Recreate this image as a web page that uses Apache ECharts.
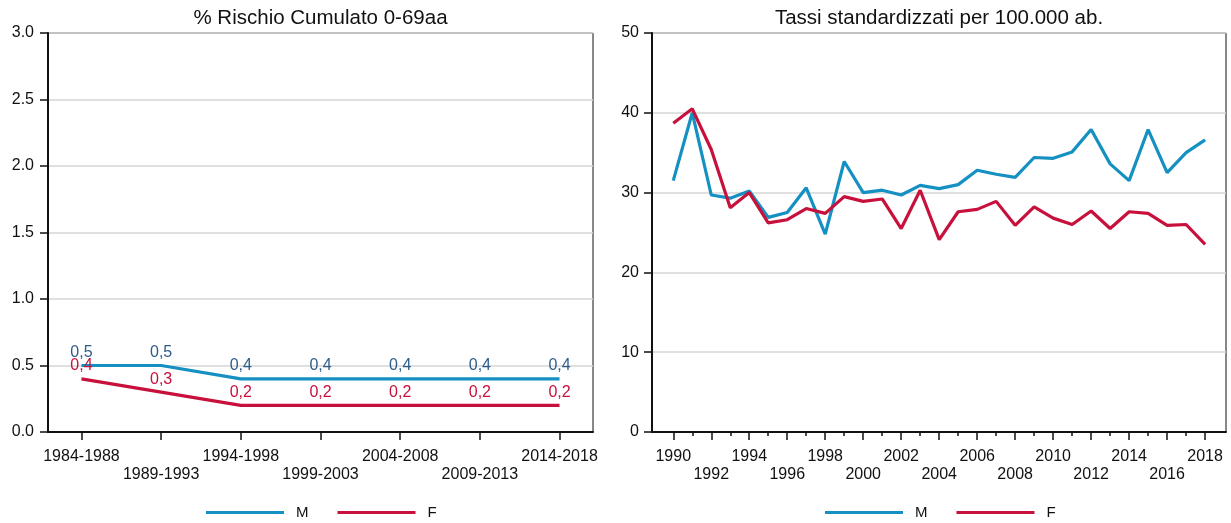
<!DOCTYPE html>
<html>
<head>
<meta charset="utf-8">
<script src="https://cdn.jsdelivr.net/npm/echarts@6/dist/echarts.min.js"></script>
<style>
html,body{margin:0;padding:0;background:#fff;}
#chart{width:1231px;height:523px;}
</style>
</head>
<body>
<div id="chart"></div>
<script>
// ---- Data ----
const periods = ['1984-1988','1989-1993','1994-1998','1999-2003','2004-2008','2009-2013','2014-2018'];
const riskM = [0.5,0.5,0.4,0.4,0.4,0.4,0.4];
const riskF = [0.4,0.3,0.2,0.2,0.2,0.2,0.2];

const years = [1990,1991,1992,1993,1994,1995,1996,1997,1998,1999,2000,2001,2002,2003,2004,2005,2006,2007,2008,2009,2010,2011,2012,2013,2014,2015,2016,2017,2018];
const rateM = [31.5,40.0,29.7,29.3,30.2,26.9,27.5,30.6,24.8,33.9,30.0,30.3,29.7,30.9,30.5,31.0,32.8,32.3,31.9,34.4,34.3,35.1,37.9,33.6,31.5,37.9,32.5,35.0,36.6];
const rateF = [38.7,40.5,35.4,28.1,30.0,26.2,26.6,28.0,27.4,29.5,28.9,29.2,25.5,30.3,24.1,27.6,27.9,28.9,25.9,28.2,26.8,26.0,27.7,25.5,27.6,27.4,25.9,26.0,23.5];

const leftTicks = [0.0,0.5,1.0,1.5,2.0,2.5,3.0];
const rightTicks = [0,10,20,30,40,50];

// ---- Styles ----
const FONT = 'Liberation Sans, Arial, sans-serif';
const BLUE = '#1590C2';
const RED = '#C8103C';
const LBL_M = '#2E5C8A';
const LBL_F = '#C8103C';

const periodIdx = periods.map((_, i) => i);
const evenYears = years.filter(y => y % 2 === 0);
const oddYears = years.filter(y => y % 2 === 1);

const axisTxt = {color:'#111', fontFamily: FONT, fontSize: 16};

const chart = echarts.init(document.getElementById('chart'), null, {renderer:'canvas'});

const riskLabel = (col) => ({show: true, position: 'top', distance: 5, color: col, fontFamily: FONT, fontSize: 16,
  formatter: p => p.value[1].toFixed(1).replace('.', ',')});

const option = {
  animation: false,
  backgroundColor: '#fff',
  textStyle: {fontFamily: FONT},
  title: [
    {text: '% Rischio Cumulato 0-69aa', left: 320.5, top: 8, padding: 0, textAlign: 'center',
     textStyle: {fontFamily: FONT, fontSize: 20.5, fontWeight: 'normal', color: '#111'}},
    {text: 'Tassi standardizzati per 100.000 ab.', left: 939, top: 8, padding: 0, textAlign: 'center',
     textStyle: {fontFamily: FONT, fontSize: 20.5, fontWeight: 'normal', color: '#111'}}
  ],
  legend: [
    {data: ['M','F'], left: 206, top: 505, padding: 0, icon: 'rect', itemWidth: 78, itemHeight: 3, itemGap: 29,
     textStyle: {fontFamily: FONT, fontSize: 15, color: '#111', padding: [0,0,0,7]}, selectedMode: false},
    {data: ['M','F'], left: 825, top: 505, padding: 0, icon: 'rect', itemWidth: 78, itemHeight: 3, itemGap: 29,
     textStyle: {fontFamily: FONT, fontSize: 15, color: '#111', padding: [0,0,0,7]}, selectedMode: false}
  ],
  grid: [
    {left: 48, right: 638, top: 33, bottom: 91, show: true, borderColor: '#111', borderWidth: 1, containLabel: false},
    {left: 652, right: 5, top: 33, bottom: 91, show: true, borderColor: '#111', borderWidth: 1, containLabel: false}
  ],
  xAxis: [
    {gridIndex: 0, type: 'value', min: -0.42, max: 6.42,
     axisLine: {show: true, onZero: false, lineStyle: {color: '#111', width: 2}},
     axisTick: {show: true, length: 8, customValues: periodIdx, lineStyle: {color: '#111', width: 1.5}},
     axisLabel: Object.assign({}, axisTxt, {customValues: periodIdx, margin: 16, lineHeight: 18,
       formatter: v => { const i = Math.round(v); return i % 2 ? '\n' + periods[i] : periods[i]; }}),
     splitLine: {show: false}},
    {gridIndex: 1, type: 'value', min: 1988.88, max: 2019.1,
     axisLine: {show: true, onZero: false, lineStyle: {color: '#111', width: 2}},
     axisTick: {show: true, length: 8, customValues: evenYears, lineStyle: {color: '#111', width: 1.5}},
     axisLabel: Object.assign({}, axisTxt, {customValues: evenYears, margin: 16, lineHeight: 18,
       formatter: v => ((v - 1990) % 4 === 0 ? String(v) : '\n' + v)}),
     splitLine: {show: false}},
    {gridIndex: 1, type: 'value', min: 1988.88, max: 2019.1, position: 'bottom',
     axisLine: {show: false, onZero: false},
     axisTick: {show: true, length: 4, customValues: oddYears, lineStyle: {color: '#111', width: 1.5}},
     axisLabel: {show: false},
     splitLine: {show: false}}
  ],
  yAxis: [
    {gridIndex: 0, type: 'value', min: 0, max: 3, interval: 0.5,
     axisLine: {show: true, onZero: false, lineStyle: {color: '#111', width: 2}},
     axisTick: {show: true, length: 8, lineStyle: {color: '#111', width: 1.5}},
     axisLabel: Object.assign({}, axisTxt, {margin: 14, padding: [4,0,0,0], formatter: v => v.toFixed(1)}),
     splitLine: {show: true, lineStyle: {color: '#d6d6d6', width: 1.5}}},
    {gridIndex: 1, type: 'value', min: 0, max: 50, interval: 10,
     axisLine: {show: true, onZero: false, lineStyle: {color: '#111', width: 2}},
     axisTick: {show: true, length: 8, lineStyle: {color: '#111', width: 1.5}},
     axisLabel: Object.assign({}, axisTxt, {margin: 13, padding: [4,0,0,0]}),
     splitLine: {show: true, lineStyle: {color: '#d6d6d6', width: 1.5}}}
  ],
  series: [
    {name: 'M', type: 'line', xAxisIndex: 0, yAxisIndex: 0, data: riskM.map((v,i)=>[i,v]),
     color: BLUE, lineStyle: {width: 3.2, color: BLUE}, symbol: 'circle', symbolSize: 0, showSymbol: true, z: 3,
     label: riskLabel(LBL_M)},
    {name: 'F', type: 'line', xAxisIndex: 0, yAxisIndex: 0, data: riskF.map((v,i)=>[i,v]),
     color: RED, lineStyle: {width: 3.2, color: RED}, symbol: 'circle', symbolSize: 0, showSymbol: true, z: 4,
     label: riskLabel(LBL_F)},
    {name: 'M', type: 'line', xAxisIndex: 1, yAxisIndex: 1, data: rateM.map((v,i)=>[years[i],v]),
     color: BLUE, lineStyle: {width: 3.2, color: BLUE}, symbol: 'none', showSymbol: false, z: 2},
    {name: 'F', type: 'line', xAxisIndex: 1, yAxisIndex: 1, data: rateF.map((v,i)=>[years[i],v]),
     color: RED, lineStyle: {width: 3.2, color: RED}, symbol: 'none', showSymbol: false, z: 3}
  ]
};
chart.setOption(option);
</script>
</body>
</html>
